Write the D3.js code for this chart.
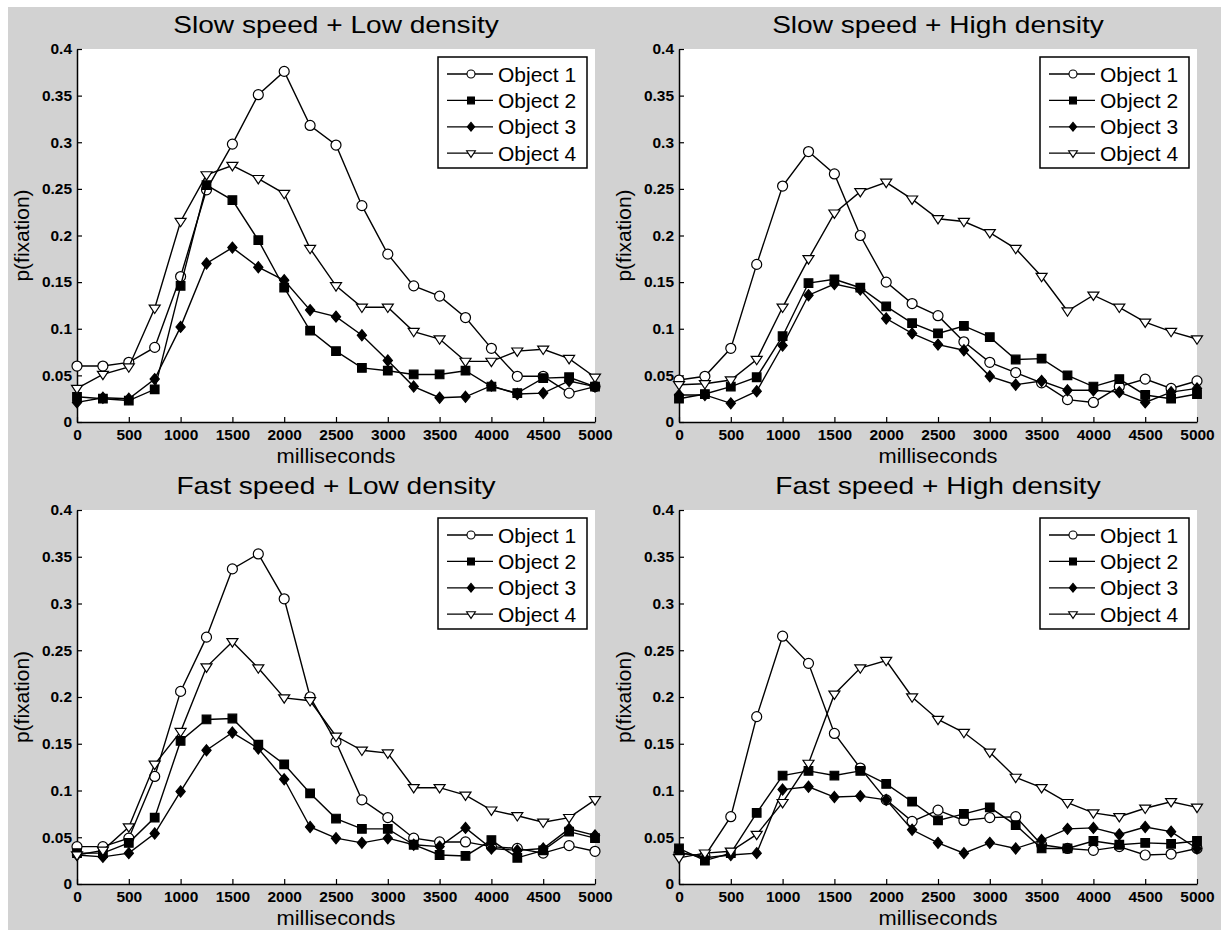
<!DOCTYPE html>
<html>
<head>
<meta charset="utf-8">
<script src="https://cdn.jsdelivr.net/npm/d3@7"></script>
<style>
  body { margin: 0; background: #fff; }
  svg { display: block; }
  text { font-family: Arial, "Liberation Sans", Helvetica, sans-serif; fill: #000; }
</style>
</head>
<body>
<div id="chart"></div>
<script>
// temps (ms) commun aux quatre panneaux
const xMs = [0, 250, 500, 750, 1000, 1250, 1500, 1750, 2000, 2250, 2500,
             2750, 3000, 3250, 3500, 3750, 4000, 4250, 4500, 4750, 5000];
const xTicks = [0, 500, 1000, 1500, 2000, 2500, 3000, 3500, 4000, 4500, 5000];
const yTicks = [0, 0.05, 0.1, 0.15, 0.2, 0.25, 0.3, 0.35, 0.4];
const seriesNames = ["Object 1", "Object 2", "Object 3", "Object 4"];
const panelTitles = ["Slow speed + Low density", "Slow speed + High density",
                     "Fast speed + Low density", "Fast speed + High density"];

// Slow speed + Low density
const slowLow1 = [0.060,0.060,0.064,0.080,0.156,0.249,0.298,0.351,0.376,0.318,0.297,0.232,0.180,0.146,0.135,0.112,0.079,0.049,0.049,0.031,0.038];
const slowLow2 = [0.027,0.025,0.023,0.035,0.146,0.254,0.238,0.195,0.144,0.098,0.076,0.058,0.055,0.051,0.051,0.055,0.038,0.031,0.047,0.048,0.038];
const slowLow3 = [0.021,0.026,0.025,0.046,0.102,0.170,0.187,0.166,0.152,0.120,0.113,0.093,0.066,0.038,0.026,0.027,0.039,0.030,0.031,0.044,0.038];
const slowLow4 = [0.036,0.051,0.059,0.122,0.215,0.265,0.275,0.261,0.245,0.186,0.146,0.123,0.123,0.097,0.089,0.065,0.065,0.076,0.078,0.068,0.048];

// Slow speed + High density
const slowHigh1 = [0.045,0.049,0.079,0.169,0.253,0.290,0.266,0.200,0.150,0.127,0.114,0.086,0.064,0.053,0.042,0.024,0.021,0.038,0.046,0.036,0.044];
const slowHigh2 = [0.025,0.030,0.038,0.048,0.092,0.149,0.153,0.144,0.124,0.106,0.095,0.103,0.091,0.067,0.068,0.050,0.038,0.046,0.029,0.025,0.030];
const slowHigh3 = [0.029,0.029,0.020,0.033,0.082,0.136,0.148,0.142,0.111,0.095,0.083,0.077,0.049,0.040,0.044,0.034,0.034,0.032,0.021,0.032,0.036];
const slowHigh4 = [0.040,0.041,0.045,0.067,0.123,0.175,0.224,0.247,0.257,0.239,0.218,0.215,0.203,0.186,0.156,0.119,0.136,0.123,0.107,0.097,0.089];

// Fast speed + Low density
const fastLow1 = [0.040,0.040,0.049,0.115,0.206,0.264,0.337,0.353,0.305,0.200,0.152,0.090,0.071,0.049,0.045,0.045,0.040,0.038,0.033,0.041,0.035];
const fastLow2 = [0.033,0.033,0.044,0.071,0.153,0.176,0.177,0.149,0.128,0.097,0.070,0.059,0.059,0.042,0.031,0.030,0.047,0.028,0.036,0.056,0.049];
const fastLow3 = [0.031,0.029,0.033,0.054,0.099,0.143,0.162,0.145,0.112,0.061,0.049,0.044,0.049,0.042,0.040,0.060,0.038,0.036,0.038,0.059,0.052];
const fastLow4 = [0.031,0.036,0.061,0.128,0.163,0.232,0.259,0.231,0.199,0.196,0.158,0.143,0.140,0.103,0.103,0.095,0.079,0.073,0.066,0.071,0.090];

// Fast speed + High density
const fastHigh1 = [0.033,0.030,0.072,0.179,0.265,0.236,0.161,0.124,0.090,0.067,0.079,0.068,0.071,0.072,0.042,0.038,0.036,0.040,0.031,0.032,0.038];
const fastHigh2 = [0.038,0.025,0.033,0.076,0.116,0.121,0.116,0.121,0.107,0.088,0.068,0.075,0.082,0.063,0.038,0.038,0.046,0.042,0.044,0.043,0.046];
const fastHigh3 = [0.034,0.028,0.031,0.033,0.101,0.104,0.093,0.094,0.090,0.058,0.044,0.033,0.044,0.038,0.047,0.059,0.060,0.053,0.061,0.056,0.038];
const fastHigh4 = [0.028,0.033,0.035,0.053,0.087,0.129,0.203,0.231,0.239,0.200,0.176,0.162,0.141,0.114,0.103,0.087,0.076,0.072,0.081,0.088,0.082];

const panelSeries = [
  [slowLow1, slowLow2, slowLow3, slowLow4],
  [slowHigh1, slowHigh2, slowHigh3, slowHigh4],
  [fastLow1, fastLow2, fastLow3, fastLow4],
  [fastHigh1, fastHigh2, fastHigh3, fastHigh4]
];

const width = 1221, height = 930;
const cols = [[77, 595], [679, 1197]];
const rows = [[49, 422], [510, 884]];

const svg = d3.select("#chart").append("svg")
  .attr("width", width).attr("height", height);

// fond gris de la figure (bord blanc en haut et à gauche)
svg.append("rect").attr("x", 8).attr("y", 7)
  .attr("width", width - 8).attr("height", height - 7)
  .attr("fill", "#d2d2d2");

// étirement horizontal du texte (la figure d'origine est élargie)
function stretch(sel, k) {
  sel.each(function() {
    const w = this.getComputedTextLength();
    d3.select(this).attr("textLength", w * k).attr("lengthAdjust", "spacingAndGlyphs");
  });
}

// formes des marqueurs
const diamond = {
  draw(ctx, s) {
    const w = s, h = s * 1.2;
    ctx.moveTo(0, -h); ctx.lineTo(w, 0); ctx.lineTo(0, h); ctx.lineTo(-w, 0); ctx.closePath();
  }
};
const triDown = {
  draw(ctx, s) {
    const w = s, h = s * 0.95;
    ctx.moveTo(-w, -h * 0.6); ctx.lineTo(w, -h * 0.6); ctx.lineTo(0, h * 1.0); ctx.closePath();
  }
};
const square = {
  draw(ctx, s) { ctx.rect(-s, -s, 2 * s, 2 * s); }
};
const circle = {
  draw(ctx, s) { ctx.moveTo(s, 0); ctx.arc(0, 0, s, 0, 2 * Math.PI); }
};
const markers = [
  { type: circle, size: 5, fill: "#fff" },
  { type: square, size: 4.3, fill: "#000" },
  { type: diamond, size: 4.6, fill: "#000" },
  { type: triDown, size: 5.5, fill: "#fff" }
];

function drawPanel(p) {
  const [x0, x1] = cols[p % 2];
  const [y0, y1] = rows[Math.floor(p / 2)];
  const x = d3.scaleLinear().domain([0, 5000]).range([x0, x1]);
  const y = d3.scaleLinear().domain([0, 0.4]).range([y1, y0]);
  const g = svg.append("g");

  g.append("rect").attr("x", x0).attr("y", y0)
    .attr("width", x1 - x0).attr("height", y1 - y0).attr("fill", "#fff");

  // titre
  g.append("text").attr("x", (x0 + x1) / 2).attr("y", y0 - 16)
    .attr("text-anchor", "middle").style("font-size", "24px")
    .text(panelTitles[p]).call(stretch, 1.17);

  // axes
  const xAxis = g.append("g").attr("transform", `translate(0,${y1})`)
    .call(d3.axisBottom(x).tickValues(xTicks).tickSizeInner(-5).tickSizeOuter(0)
      .tickPadding(7).tickFormat(d3.format("d")));
  const yAxis = g.append("g").attr("transform", `translate(${x0},0)`)
    .call(d3.axisLeft(y).tickValues(yTicks).tickSizeInner(-5).tickSizeOuter(0)
      .tickPadding(5).tickFormat(d => String(+d.toFixed(2))));
  [xAxis, yAxis].forEach(a => {
    a.select(".domain").attr("stroke", "#000").attr("stroke-width", 1.5);
    a.selectAll(".tick line").attr("stroke", "#000").attr("stroke-width", 1.2);
    a.selectAll(".tick text").style("font-size", "15px").style("font-weight", "bold")
      .attr("font-family", null).call(stretch, 1.03);
  });

  g.append("text").attr("x", (x0 + x1) / 2).attr("y", y1 + 41)
    .attr("text-anchor", "middle").style("font-size", "21px")
    .text("milliseconds").call(stretch, 1.04);
  g.append("text").attr("transform", `translate(${x0 - 48},${(y0 + y1) / 2}) rotate(-90)`)
    .attr("text-anchor", "middle").style("font-size", "21px")
    .text("p(fixation)");

  // courbes
  const line = d3.line().x((d, i) => x(xMs[i])).y(d => y(d));
  panelSeries[p].forEach((vals, s) => {
    g.append("path").datum(vals).attr("d", line)
      .attr("fill", "none").attr("stroke", "#000").attr("stroke-width", 1.4);
    g.selectAll(null).data(vals).enter().append("path")
      .attr("transform", (d, i) => `translate(${x(xMs[i])},${y(d)})`)
      .attr("d", d3.symbol().type(markers[s].type).size(markers[s].size))
      .attr("fill", markers[s].fill).attr("stroke", "#000").attr("stroke-width", 1.2);
  });

  // légende
  const lx = x1 - 157, ly = y0 + 8;
  const leg = g.append("g").attr("transform", `translate(${lx},${ly})`);
  leg.append("rect").attr("width", 149).attr("height", 111)
    .attr("fill", "#fff").attr("stroke", "#000").attr("stroke-width", 1.5);
  seriesNames.forEach((name, s) => {
    const ey = 17 + s * 26.4;
    leg.append("line").attr("x1", 9).attr("x2", 55).attr("y1", ey).attr("y2", ey)
      .attr("stroke", "#000").attr("stroke-width", 1.3);
    leg.append("path").attr("transform", `translate(33,${ey})`)
      .attr("d", d3.symbol().type(markers[s].type).size(markers[s].size * 0.8))
      .attr("fill", markers[s].fill).attr("stroke", "#000").attr("stroke-width", 1.1);
    leg.append("text").attr("x", 60).attr("y", ey).attr("dy", "0.36em")
      .style("font-size", "21px").text(name);
  });
}

for (let p = 0; p < 4; p++) drawPanel(p);
</script>
</body>
</html>
